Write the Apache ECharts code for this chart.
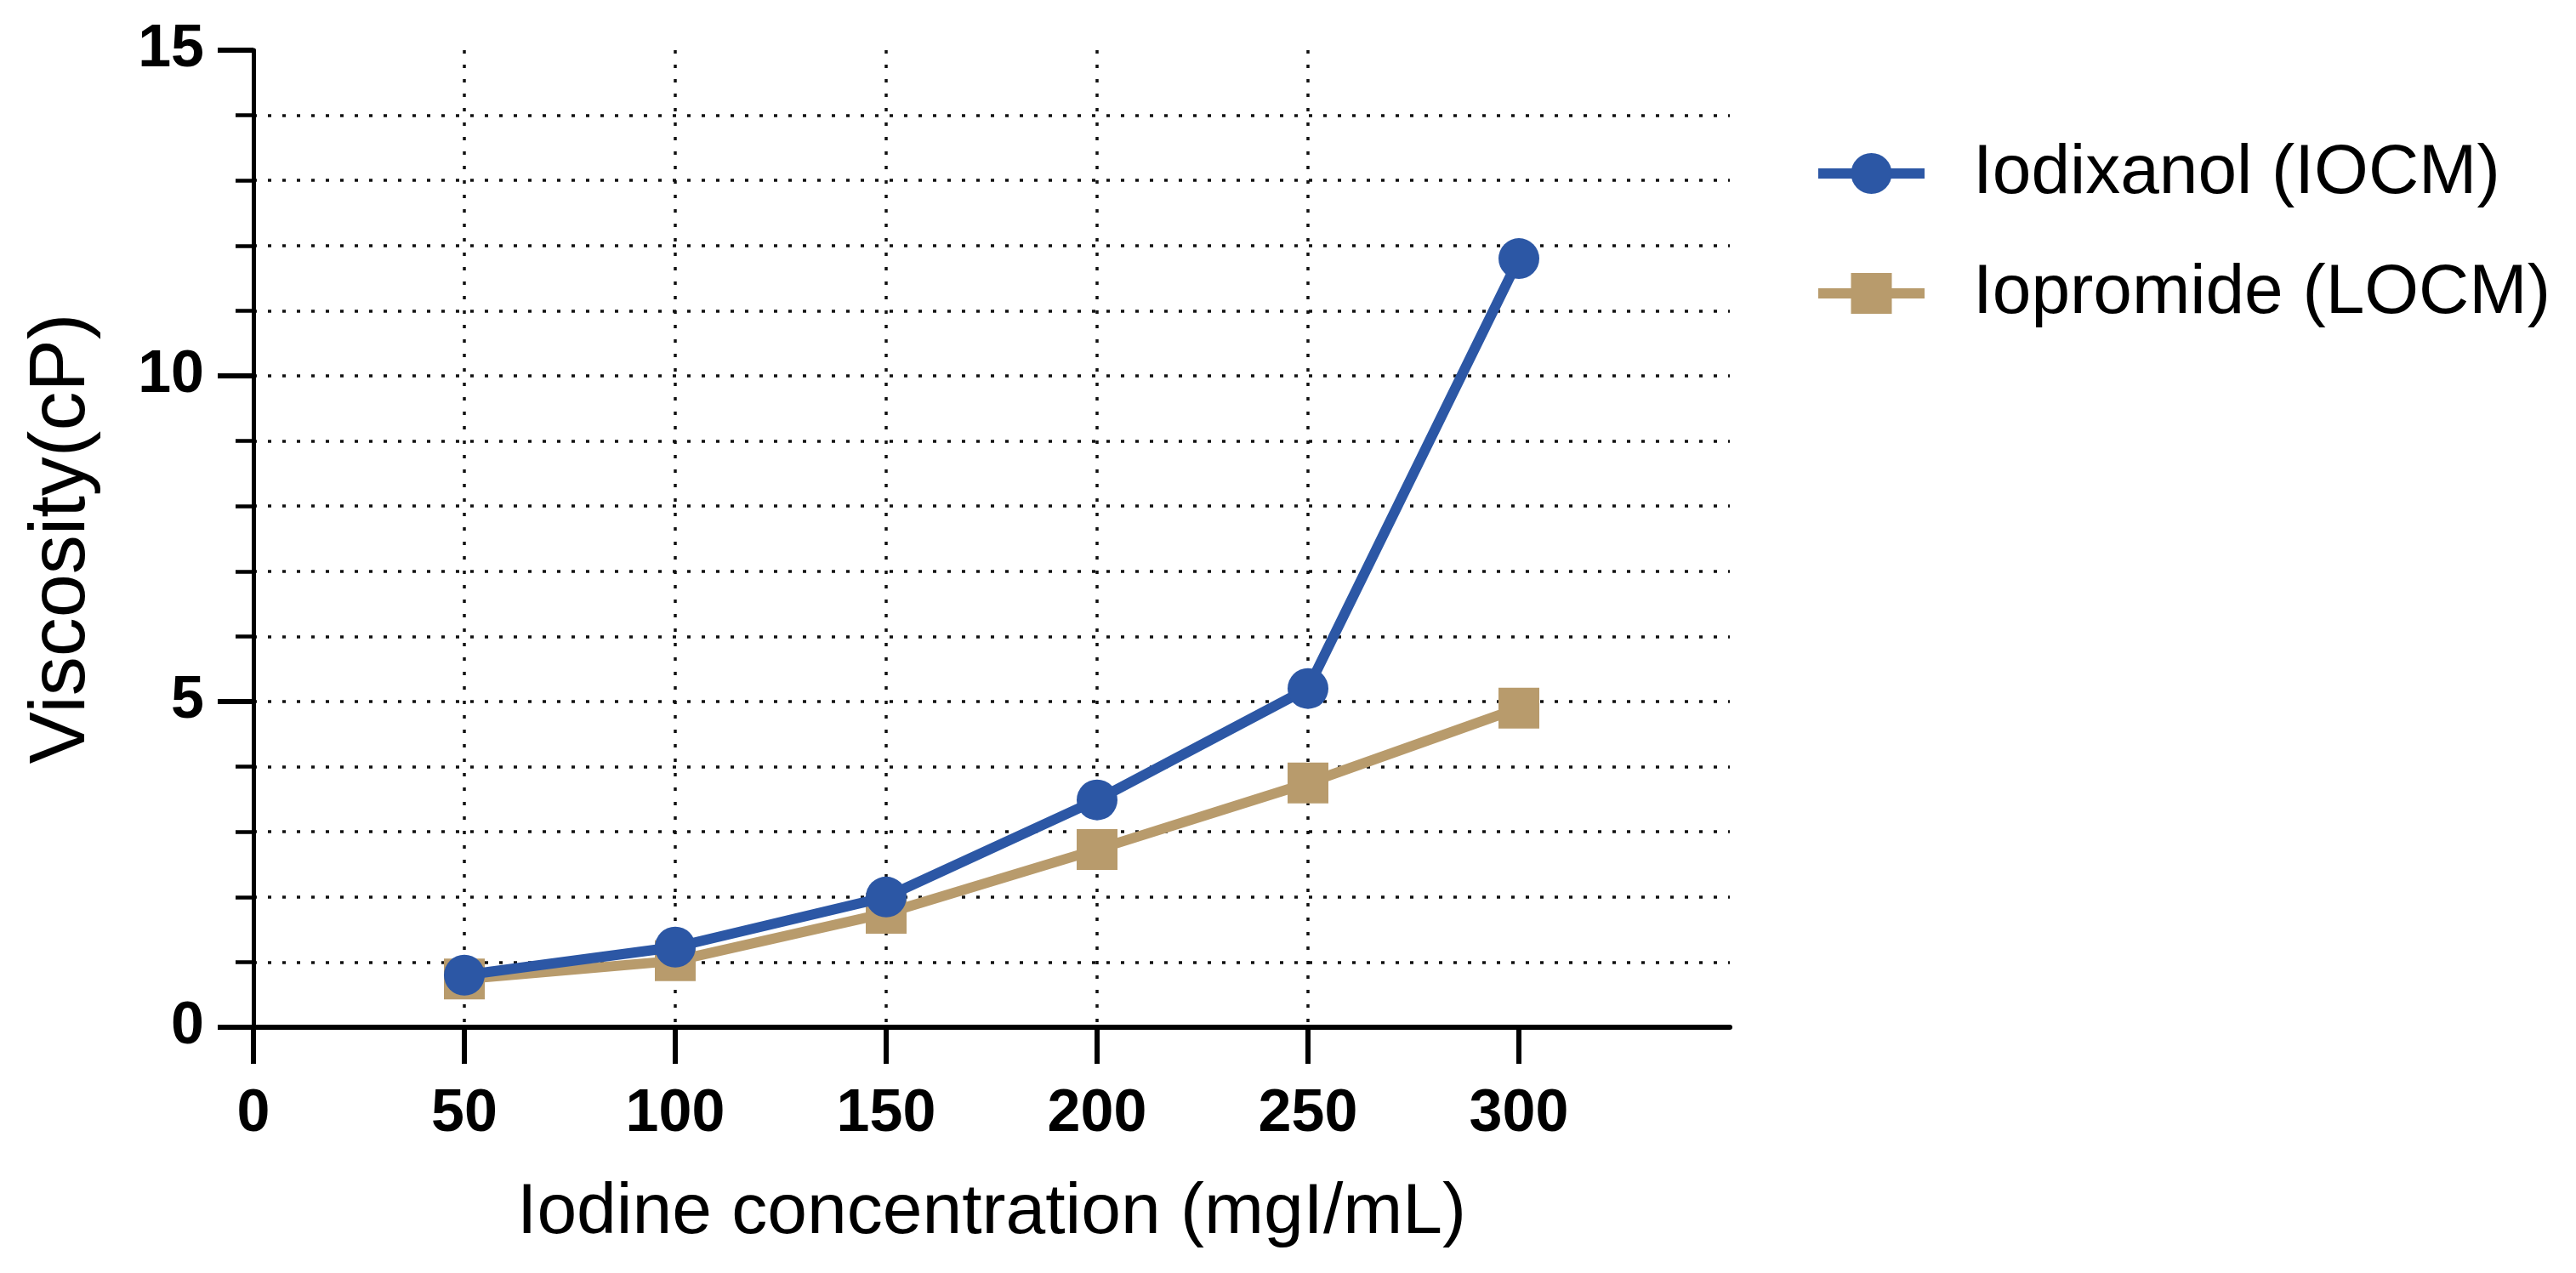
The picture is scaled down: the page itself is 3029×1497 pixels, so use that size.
<!DOCTYPE html>
<html>
<head>
<meta charset="utf-8">
<script src="https://cdn.jsdelivr.net/npm/echarts@6/dist/echarts.min.js"></script>
<style>
html,body{margin:0;padding:0;background:#fff;}
#chart{width:3029px;height:1497px;}
</style>
</head>
<body>
<div id="chart"></div>
<script>
const concentrations = [50, 100, 150, 200, 250, 300];
const iodixanol = [0.8, 1.23, 2.0, 3.49, 5.2, 11.8];
const iopromide = [0.74, 1.02, 1.75, 2.73, 3.75, 4.9];
const xTickValues = [0, 50, 100, 150, 200, 250, 300];
const seriesNames = ['Iodixanol (IOCM)', 'Iopromide (LOCM)'];

const FONT = '"Liberation Sans", Arial, sans-serif';
const grid = {color: '#111', width: 3.5, type: [4, 13]};

const chart = echarts.init(document.getElementById('chart'));
chart.setOption({
  animation: false,
  backgroundColor: '#fff',
  grid: {left: 298, right: 995, top: 59, bottom: 289, containLabel: false},
  legend: {
    data: seriesNames,
    orient: 'vertical',
    left: 2127,
    top: 158,
    itemWidth: 125,
    itemHeight: 60,
    itemGap: 59,
    lineStyle: {width: 12},
    textStyle: {fontFamily: FONT, fontSize: 82, color: '#000', padding: [0, 0, 0, 52]}
  },
  xAxis: {
    type: 'value',
    min: 0, max: 350, interval: 50,
    name: 'Iodine concentration (mgI/mL)',
    nameLocation: 'middle',
    nameGap: 177,
    nameTextStyle: {fontFamily: FONT, fontSize: 84, color: '#000'},
    axisLine: {show: true, onZero: false, lineStyle: {color: '#000', width: 6}},
    axisTick: {show: true, length: 43, lineStyle: {color: '#000', width: 6}, customValues: xTickValues},
    axisLabel: {
      fontFamily: FONT, fontSize: 70, fontWeight: 'bold', color: '#000', margin: 68,
      customValues: xTickValues,
      formatter: v => (v > 300 ? '' : String(v))
    },
    splitLine: {show: true, showMinLine: false, showMaxLine: false, lineStyle: grid}
  },
  yAxis: {
    type: 'value',
    min: 0, max: 15, interval: 5,
    name: 'Viscosity(cP)',
    nameLocation: 'middle',
    nameGap: 178,
    nameTextStyle: {fontFamily: FONT, fontSize: 92, color: '#000'},
    axisLine: {show: true, onZero: false, lineStyle: {color: '#000', width: 5}},
    axisTick: {show: true, length: 42, lineStyle: {color: '#000', width: 6}},
    minorTick: {show: true, splitNumber: 5, length: 21, lineStyle: {color: '#000', width: 4.5}},
    axisLabel: {fontFamily: FONT, fontSize: 70, fontWeight: 'bold', color: '#000', margin: 58},
    splitLine: {show: true, showMinLine: false, showMaxLine: false, lineStyle: grid},
    minorSplitLine: {show: true, lineStyle: grid}
  },
  series: [
    {
      name: seriesNames[0],
      type: 'line',
      z: 4,
      data: concentrations.map((c, i) => [c, iodixanol[i]]),
      symbol: 'circle',
      symbolSize: 48,
      lineStyle: {color: '#2C57A5', width: 12},
      itemStyle: {color: '#2C57A5'}
    },
    {
      name: seriesNames[1],
      type: 'line',
      z: 3,
      data: concentrations.map((c, i) => [c, iopromide[i]]),
      symbol: 'rect',
      symbolSize: 48,
      lineStyle: {color: '#B89B6C', width: 12},
      itemStyle: {color: '#B89B6C'}
    }
  ]
});
</script>
</body>
</html>
